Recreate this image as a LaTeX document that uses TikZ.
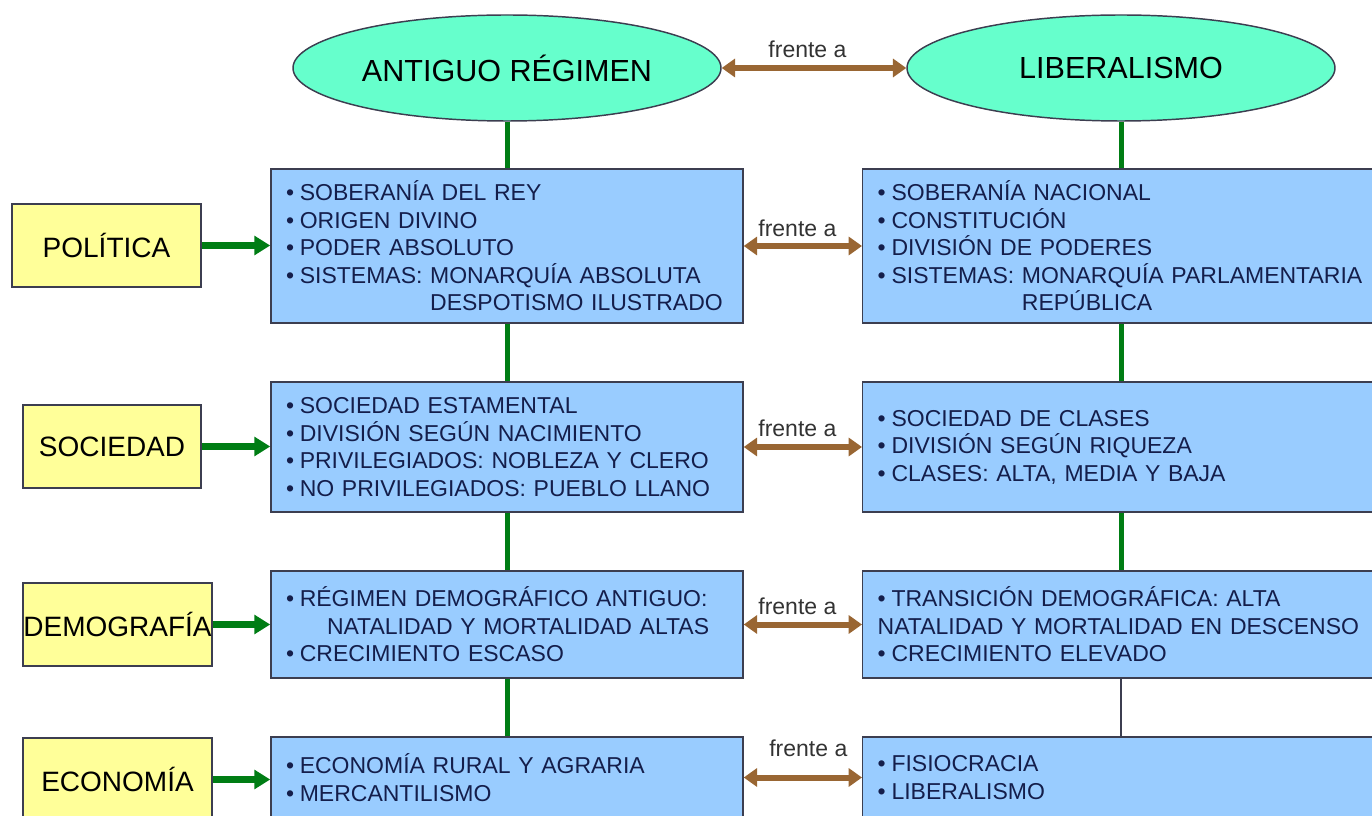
\documentclass[tikz,border=0pt]{standalone}
\usepackage{fontspec}
\setmainfont{Liberation Sans}
\usetikzlibrary{shapes.geometric,arrows.meta}
\definecolor{menta}{RGB}{102,255,204}
\definecolor{celeste}{RGB}{153,204,255}
\definecolor{amarillo}{RGB}{255,255,153}
\definecolor{verde}{RGB}{0,125,20}
\definecolor{marron}{RGB}{153,102,51}
\definecolor{borde}{RGB}{60,62,80}
\definecolor{tinta}{RGB}{20,30,75}
\newcommand\itm{•\hspace{0.25em}}
\begin{document}
\begin{tikzpicture}[x=0.75pt,y=-0.75pt,
    idea/.style={ellipse,draw=borde,line width=1.1pt,fill=menta,minimum width=321pt,minimum height=79.5pt,inner sep=0pt,font=\fontsize{22.9}{27}\selectfont},
    tema/.style={draw=borde,line width=1.1pt,fill=amarillo,minimum height=62.25pt,inner sep=0pt,font=\fontsize{21}{25}\selectfont},
    caja/.style={draw=borde,line width=1.1pt,fill=celeste,inner xsep=11.25pt,inner ysep=0pt,align=left,text=tinta,font=\fontsize{17.25}{20.6}\selectfont},
    une/.style={verde,line width=3.75pt},
    flecha/.style={verde,line width=5pt,>={Triangle[length=12pt,width=14pt]},->},
    frente/.style={marron,line width=4.5pt,>={Triangle[length=10pt,width=13.5pt]},<->},
    lbl/.style={font=\fontsize{17.25}{20}\selectfont,text=black!80,inner sep=0pt}]
    \clip (0,0) rectangle (1372,816);
    % cabeceras
    \node[idea] (ar) at (507,68) {ANTIGUO RÉGIMEN};
    \node[idea] (lib) at (1121,68) {LIBERALISMO};
    % temas
    \node[tema,minimum width=141.75pt] (pol) at (106.5,245.5) {POLÍTICA};
    \node[tema,minimum width=133.5pt] (soc) at (112,446.5) {SOCIEDAD};
    \node[tema,minimum width=141.75pt] (dem) at (117.5,624.5) {DEMOGRAFÍA};
    \node[tema,minimum width=141.75pt] (eco) at (117.5,779.5) {ECONOMÍA};
    % antiguo regimen
    \node[caja,text width=331.5pt,minimum height=115.5pt] (a1) at (507,246) {\itm SOBERANÍA DEL REY\\ \itm ORIGEN DIVINO\\ \itm PODER ABSOLUTO\\ \itm SISTEMAS: MONARQUÍA ABSOLUTA\\ \hphantom{\itm SISTEMAS: }DESPOTISMO ILUSTRADO};
    \node[caja,text width=331.5pt,minimum height=97.5pt] (a2) at (507,447) {\itm SOCIEDAD ESTAMENTAL\\ \itm DIVISIÓN SEGÚN NACIMIENTO\\ \itm PRIVILEGIADOS: NOBLEZA Y CLERO\\ \itm NO PRIVILEGIADOS: PUEBLO LLANO};
    \node[caja,text width=331.5pt,minimum height=80.25pt] (a3) at (507,624.5) {\itm RÉGIMEN DEMOGRÁFICO ANTIGUO:\\ \hspace*{30.75pt}NATALIDAD Y MORTALIDAD ALTAS\\ \itm CRECIMIENTO ESCASO};
    \node[caja,text width=331.5pt,minimum height=60.75pt] (a4) at (507,777.5) {\itm ECONOMÍA RURAL Y AGRARIA\\ \itm MERCANTILISMO};
    % liberalismo
    \node[caja,anchor=west,text width=400pt,minimum height=115.5pt] (l1) at (862,246) {\itm SOBERANÍA NACIONAL\\ \itm CONSTITUCIÓN\\ \itm DIVISIÓN DE PODERES\\ \itm SISTEMAS: MONARQUÍA PARLAMENTARIA\\ \hphantom{\itm SISTEMAS: }REPÚBLICA};
    \node[caja,anchor=west,text width=400pt,minimum height=97.5pt] (l2) at (862,447) {\itm SOCIEDAD DE CLASES\\ \itm DIVISIÓN SEGÚN RIQUEZA\\ \itm CLASES: ALTA, MEDIA Y BAJA};
    \node[caja,anchor=west,text width=400pt,minimum height=80.25pt] (l3) at (862,624.5) {\itm TRANSICIÓN DEMOGRÁFICA: ALTA\\ NATALIDAD Y MORTALIDAD EN DESCENSO\\ \itm CRECIMIENTO ELEVADO};
    \node[caja,anchor=west,text width=400pt,minimum height=60.75pt] (l4) at (862,777.5) {\itm FISIOCRACIA\\ \itm LIBERALISMO};
    % uniones
    \foreach \p/\q in {ar/a1,a1/a2,a2/a3,a3/a4} \draw[une] (\p.south) -- (\q.north);
    \draw[une] (lib.south) -- (lib.south |- l1.north);
    \foreach \p/\q in {l1/l2,l2/l3} \draw[une] (\p.south -| lib.south) -- (\q.north -| lib.south);
    \draw[borde,line width=1.1pt] (l3.south -| lib.south) -- (l4.north -| lib.south);
    \foreach \t/\c in {pol/a1,soc/a2,dem/a3,eco/a4} \draw[flecha] (\t.east) -- (\t.east -| \c.west);
    % frente a
    \draw[frente] (ar.east) -- node[lbl,xshift=-4.9pt,yshift=14.25pt] (f0) {frente a} (lib.west);
    \draw[frente] (a1.east) -- node[lbl,xshift=-4.1pt,yshift=13.1pt] (f1) {frente a} (a1.east -| l1.west);
    \draw[frente] (a2.east) -- node[lbl,xshift=-4.1pt,yshift=13.9pt] (f2) {frente a} (a2.east -| l2.west);
    \draw[frente] (a3.east) -- node[lbl,xshift=-4.1pt,yshift=13.9pt] (f3) {frente a} (a3.east -| l3.west);
    \draw[frente] (a4.east) -- node[lbl,xshift=4.1pt,yshift=22pt] (f4) {frente a} (a4.east -| l4.west);
\end{tikzpicture}
\end{document}
